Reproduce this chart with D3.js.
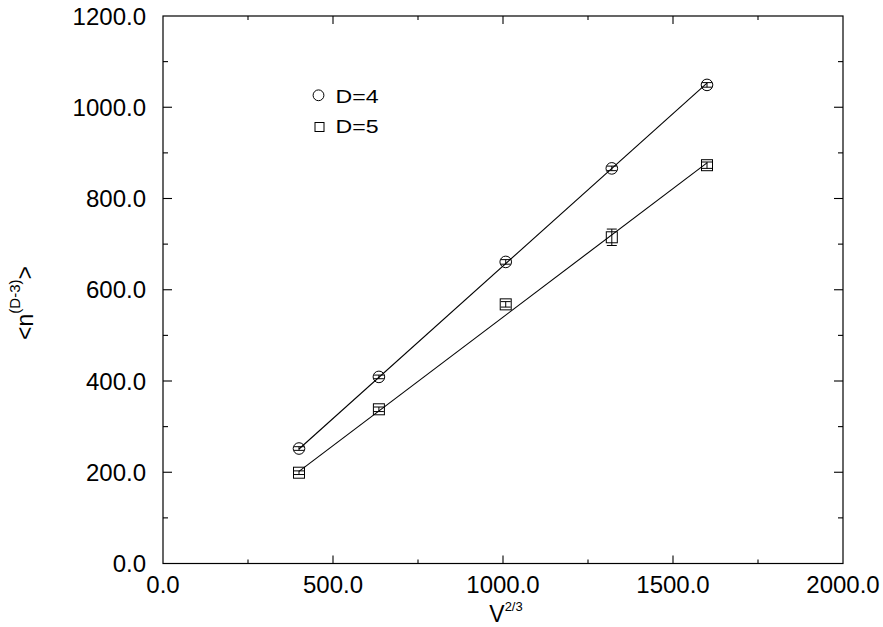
<!DOCTYPE html>
<html>
<head>
<meta charset="utf-8">
<script src="https://cdn.jsdelivr.net/npm/d3@7"></script>
<style>
  html, body { margin: 0; padding: 0; background: #fff; }
  svg { display: block; font-family: "Liberation Sans", Arial, sans-serif; }
</style>
</head>
<body>
<svg id="chart" width="883" height="627"></svg>
<script>
// ---- data ----
const xValues   = [400, 635, 1008, 1320, 1600];
const d4Values  = [252, 409, 661, 866, 1049];
const d4Errors  = [4, 4, 5, 5, 5];
const d5Values  = [199, 338, 568, 715, 873];
const d5Errors  = [4, 5, 6, 18, 7];
const d4FitX    = [400, 1600];
const d4FitY    = [251, 1053];
const d5FitX    = [400, 1600];
const d5FitY    = [202, 878];
const xTicks    = [0, 500, 1000, 1500, 2000];
const xMinor    = [250, 750, 1250, 1750];
const yTicks    = [0, 200, 400, 600, 800, 1000, 1200];
const yMinor    = [100, 300, 500, 700, 900, 1100];
const legendLabels = ["D=4", "D=5"];

const svg = d3.select("#chart");
const x = d3.scaleLinear().domain([0, 2000]).range([163, 843]);
const y = d3.scaleLinear().domain([0, 1200]).range([563.5, 16]);

const fmt = d => d.toFixed(1);

// frame
svg.append("rect")
  .attr("x", x(0)).attr("y", y(1200))
  .attr("width", x(2000) - x(0)).attr("height", y(0) - y(1200))
  .attr("fill", "none").attr("stroke", "#000").attr("stroke-width", 1.2);

// ticks (inward on all four sides)
const tickG = svg.append("g").attr("stroke", "#000").attr("stroke-width", 1.1);
function vTicks(vals, len) {
  vals.forEach(v => {
    tickG.append("line").attr("x1", x(v)).attr("x2", x(v)).attr("y1", y(0)).attr("y2", y(0) - len);
    tickG.append("line").attr("x1", x(v)).attr("x2", x(v)).attr("y1", y(1200)).attr("y2", y(1200) + len);
  });
}
function hTicks(vals, len) {
  vals.forEach(v => {
    tickG.append("line").attr("y1", y(v)).attr("y2", y(v)).attr("x1", x(0)).attr("x2", x(0) + len);
    tickG.append("line").attr("y1", y(v)).attr("y2", y(v)).attr("x1", x(2000)).attr("x2", x(2000) - len);
  });
}
vTicks(xTicks.slice(1, -1), 8);
vTicks(xMinor, 4);
hTicks(yTicks.slice(1, -1), 9);
hTicks(yMinor, 5);

// tick labels
svg.append("g").selectAll("text").data(xTicks).join("text")
  .attr("x", d => x(d)).attr("y", 593)
  .attr("text-anchor", "middle").attr("font-size", 24)
  .text(fmt);
svg.append("g").selectAll("text").data(yTicks).join("text")
  .attr("x", 146).attr("y", d => y(d) + 8.5)
  .attr("text-anchor", "end").attr("font-size", 24)
  .text(fmt);

// axis titles
const xt = svg.append("text").attr("x", 506).attr("y", 622)
  .attr("text-anchor", "middle").attr("font-size", 23);
xt.append("tspan").text("V");
xt.append("tspan").attr("font-size", 13).attr("dy", -11).text("2/3");

const yt = svg.append("text").attr("transform", "translate(33,303) rotate(-90)")
  .attr("text-anchor", "middle").attr("font-size", 23);
yt.append("tspan").text("<n");
yt.append("tspan").attr("font-size", 15).attr("dy", -13).text("(D-3)");
yt.append("tspan").attr("dy", 13).text(">");

// fit lines
const line = d3.line().x(d => x(d[0])).y(d => y(d[1]));
svg.append("path").datum(d4FitX.map((v, i) => [v, d4FitY[i]]))
  .attr("d", line).attr("fill", "none").attr("stroke", "#000").attr("stroke-width", 1.1);
svg.append("path").datum(d5FitX.map((v, i) => [v, d5FitY[i]]))
  .attr("d", line).attr("fill", "none").attr("stroke", "#000").attr("stroke-width", 1.1);

// error bars + markers
function errorBars(vals, errs, half) {
  const g = svg.append("g").attr("stroke", "#000").attr("stroke-width", 1);
  xValues.forEach((xv, i) => {
    const top = y(vals[i] + errs[i]), bot = y(vals[i] - errs[i]);
    g.append("line").attr("x1", x(xv)).attr("x2", x(xv)).attr("y1", top).attr("y2", bot);
    g.append("line").attr("x1", x(xv) - half).attr("x2", x(xv) + half).attr("y1", top).attr("y2", top);
    g.append("line").attr("x1", x(xv) - half).attr("x2", x(xv) + half).attr("y1", bot).attr("y2", bot);
  });
}
errorBars(d4Values, d4Errors, 5);
errorBars(d5Values, d5Errors, 5);

svg.append("g").selectAll("circle").data(xValues).join("circle")
  .attr("cx", d => x(d)).attr("cy", (d, i) => y(d4Values[i])).attr("r", 5.8)
  .attr("fill", "none").attr("stroke", "#000").attr("stroke-width", 1);
svg.append("g").selectAll("rect").data(xValues).join("rect")
  .attr("x", d => x(d) - 5.5).attr("y", (d, i) => y(d5Values[i]) - 5.5)
  .attr("width", 11).attr("height", 11)
  .attr("fill", "none").attr("stroke", "#000").attr("stroke-width", 1);

// legend
svg.append("circle").attr("cx", 318.5).attr("cy", 95.3).attr("r", 5.4)
  .attr("fill", "none").attr("stroke", "#000").attr("stroke-width", 1);
svg.append("rect").attr("x", 315).attr("y", 122.5).attr("width", 9).attr("height", 9)
  .attr("fill", "none").attr("stroke", "#000").attr("stroke-width", 1);
svg.append("text").attr("x", 335.5).attr("y", 103.3).attr("font-size", 18)
  .attr("textLength", 43).attr("lengthAdjust", "spacingAndGlyphs").text(legendLabels[0]);
svg.append("text").attr("x", 335.5).attr("y", 133.3).attr("font-size", 18)
  .attr("textLength", 43).attr("lengthAdjust", "spacingAndGlyphs").text(legendLabels[1]);
</script>
</body>
</html>
